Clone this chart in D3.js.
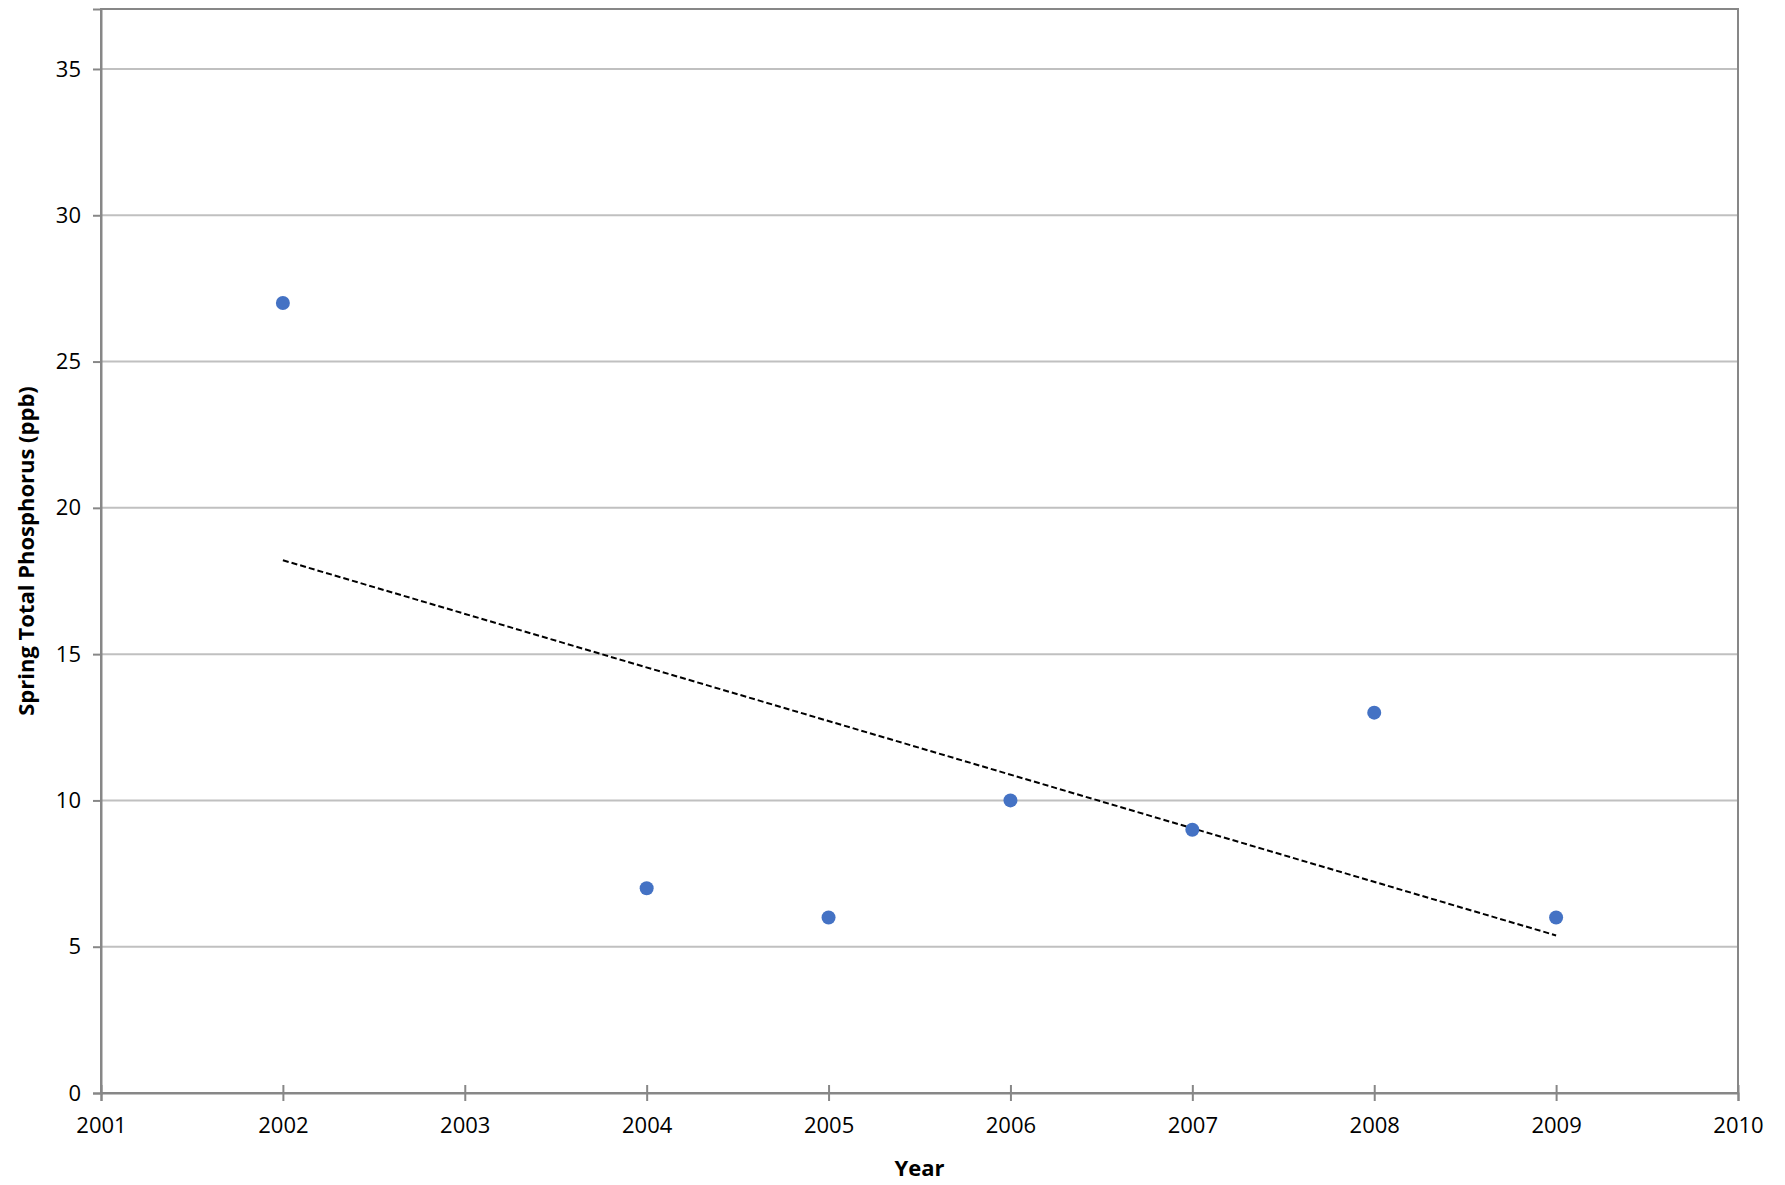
<!DOCTYPE html>
<meta charset="utf-8">
<style>
body { margin: 0; background: #fff; }
text { font-family: 'Open Sans', sans-serif; fill: #000; }
</style>
<body>
<script src="https://d3js.org/d3.v7.min.js"></script>
<script>
	var years = [2002, 2004, 2005, 2006, 2007, 2008, 2009];
	var phosphorus = [27, 7, 6, 10, 9, 13, 6];
	var xTicks = [2001, 2002, 2003, 2004, 2005, 2006, 2007, 2008, 2009, 2010];
	var yTicks = [0, 5, 10, 15, 20, 25, 30, 35];

	var width = 1785, height = 1185;
	var plotLeft = 101, plotRight = 1738, plotTop = 9, plotBottom = 1093;

	var svg = d3.select("body").append("svg")
		.attr("width", width)
		.attr("height", height);

	var x = d3.scaleLinear().domain([2001, 2010]).range([plotLeft, plotRight]);
	var y = d3.scaleLinear().domain([0, 37.05]).range([plotBottom, plotTop]);

	// gridlines
	svg.selectAll(".grid").data(yTicks.filter(function(d) { return d > 0; }))
		.enter().append("line")
		.attr("x1", plotLeft).attr("x2", plotRight)
		.attr("y1", function(d) { return y(d); })
		.attr("y2", function(d) { return y(d); })
		.style("stroke", "#c0c0c0").style("stroke-width", 2);

	// plot border
	svg.append("rect")
		.attr("x", plotLeft).attr("y", plotTop)
		.attr("width", plotRight - plotLeft).attr("height", plotBottom - plotTop)
		.style("fill", "none").style("stroke", "#878787").style("stroke-width", 2);

	var xAxis = svg.append("g")
		.attr("transform", "translate(0," + plotBottom + ")")
		.call(d3.axisBottom(x).tickValues(xTicks).tickFormat(d3.format("d")).tickSize(8).tickPadding(16));
	var yAxis = svg.append("g")
		.attr("transform", "translate(" + plotLeft + ",0)")
		.call(d3.axisLeft(y).tickValues(yTicks).tickSize(8).tickPadding(12));

	[xAxis, yAxis].forEach(function(a) {
		a.select(".domain").style("stroke", "#878787").style("stroke-width", 2);
		a.selectAll(".tick line").style("stroke", "#878787").style("stroke-width", 2);
		a.selectAll(".tick text").style("font-size", "22px").style("font-family", "'Open Sans', sans-serif").attr("fill", "#000");
	});
	// x ticks cross the axis in the reference
	xAxis.selectAll(".tick line").attr("y1", -8).attr("y2", 8);

	// linear trendline
	var n = years.length;
	var mx = d3.mean(years), my = d3.mean(phosphorus);
	var sxy = 0, sxx = 0;
	for (var i = 0; i < n; i++) {
		sxy += (years[i] - mx) * (phosphorus[i] - my);
		sxx += (years[i] - mx) * (years[i] - mx);
	}
	var slope = sxy / sxx, intercept = my - slope * mx;
	var x0 = d3.min(years), x1 = d3.max(years);
	svg.append("line")
		.attr("x1", x(x0)).attr("y1", y(intercept + slope * x0))
		.attr("x2", x(x1)).attr("y2", y(intercept + slope * x1))
		.style("stroke", "#000").style("stroke-width", 2)
		.style("stroke-dasharray", "6,3");

	// points
	svg.selectAll(".pt").data(years)
		.enter().append("circle")
		.attr("cx", function(d) { return x(d); })
		.attr("cy", function(d, i) { return y(phosphorus[i]); })
		.attr("r", 7)
		.style("fill", "#4472c4");

	// axis titles
	svg.append("text")
		.attr("x", (plotLeft + plotRight) / 2).attr("y", 1176)
		.attr("text-anchor", "middle")
		.style("font-size", "22px").style("font-weight", "bold")
		.text("Year");
	svg.append("text")
		.attr("transform", "translate(34," + (plotTop + plotBottom) / 2 + ") rotate(-90)")
		.attr("text-anchor", "middle")
		.style("font-size", "22px").style("font-weight", "bold")
		.text("Spring Total Phosphorus (ppb)");
</script>
</body>
</html>
